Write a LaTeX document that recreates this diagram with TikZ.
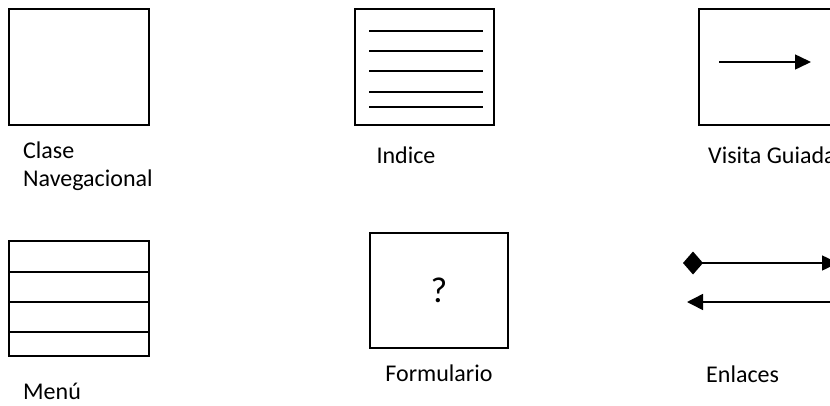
\documentclass[tikz,border=0pt]{standalone}
\usepackage{fontspec}
\setmainfont{Carlito}
\usepackage{tikz}
\usetikzlibrary{arrows.meta,positioning}

\begin{document}
\begin{tikzpicture}[
    x=1pt, y=-1pt,
    icon/.style={rectangle, draw=black, line width=1.3pt, minimum width=140pt, minimum height=116pt, inner sep=0pt},
    caption/.style={font=\fontsize{24}{28}\selectfont, inner sep=0pt, align=left},
    arrow/.style={line width=1.5pt, -{Triangle[length=16pt, width=15pt]}}
]
\useasboundingbox (0,0) rectangle (830,405);
\clip (0,0) rectangle (830,405);

% top row
\node[icon] (clase) at (79,67) {};
\node[caption, anchor=west] (claseText) at (23,166) {Clase\\Navegacional};

\node[icon, minimum width=139pt] (indice) at (424.5,67) {};
\foreach \y in {31,51,71,92,107}
    \draw[line width=1.3pt] (369,\y) -- (483,\y);
\node[caption] (indiceText) at (406,155) {Indice};

\node[icon] (visita) at (769,67) {};
\coordinate (visitaStart) at (719,62);
\coordinate (visitaEnd) at (811,62);
\draw[arrow] (visitaStart) -- (visitaEnd);
\node[caption, anchor=west] (visitaText) at (708,155) {Visita Guiada};

% bottom row
\node[icon, minimum height=115pt] (menu) at (79,298.5) {};
\foreach \y in {272,302,332}
    \draw[line width=1.3pt] (8,\y) -- (149,\y);
\node[caption, anchor=west] (menuText) at (23,391) {Menú};

\node[icon, minimum width=138pt, minimum height=115pt, font=\fontsize{36}{42}\selectfont] (form) at (439,290.5) {?};
\node[caption] (formText) at (439,373) {Formulario};

\coordinate (enlaceA) at (683,263);
\coordinate (enlaceB) at (838,263);
\coordinate (enlaceC) at (845,302);
\coordinate (enlaceD) at (687,302);
\draw[arrow, {Diamond[length=20pt, width=23pt]}-{Triangle[length=16pt, width=15pt]}] (enlaceA) -- (enlaceB);
\draw[arrow, -{Triangle[length=16pt, width=16pt]}] (enlaceC) -- (enlaceD);
\node[caption, anchor=west] (enlaceText) at (706,374) {Enlaces};
\end{tikzpicture}
\end{document}
